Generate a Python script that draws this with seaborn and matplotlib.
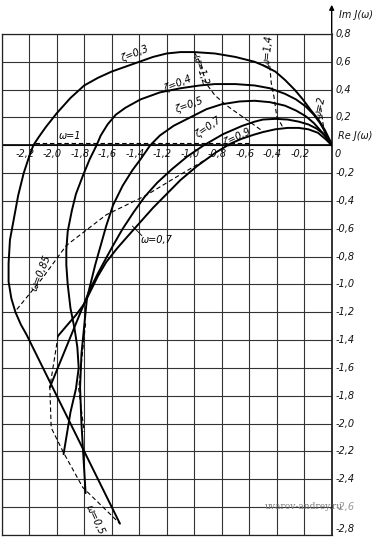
import numpy as np
import pandas as pd
import matplotlib
matplotlib.use("Agg")
import matplotlib.pyplot as plt
import seaborn as sns

# ---------------- data (Re, Im) ----------------
z03_re = [0, -0.01, -0.05, -0.10, -0.15, -0.21, -0.27, -0.34, -0.41, -0.50, -0.56, -0.70, -0.85, -1.0,
          -1.1, -1.2, -1.3, -1.4, -1.5, -1.6, -1.7, -1.8, -1.9, -2.0, -2.08, -2.13, -2.17, -2.20,
          -2.24, -2.28, -2.31, -2.34, -2.35, -2.35, -2.33, -2.30, -2.26, -2.22, -1.54]
z03_im = [0, 0.03, 0.11, 0.19, 0.25, 0.33, 0.40, 0.47, 0.53, 0.575, 0.60, 0.635, 0.66, 0.67,
          0.67, 0.66, 0.635, 0.60, 0.565, 0.53, 0.485, 0.43, 0.34, 0.23, 0.13, 0.06, 0.0, -0.08,
          -0.20, -0.36, -0.52, -0.68, -0.85, -0.98, -1.10, -1.20, -1.29, -1.36, -2.72]

z04_re = [0, -0.025, -0.05, -0.085, -0.13, -0.19, -0.26, -0.34, -0.45, -0.56, -0.70, -0.85, -0.96,
          -1.1, -1.25, -1.39, -1.50, -1.57, -1.63, -1.68, -1.71, -1.76, -1.81, -1.86, -1.89, -1.92,
          -1.93, -1.93, -1.92, -1.90, -1.87, -1.85, -1.84, -1.86, -1.90, -1.95]
z04_im = [0, 0.04, 0.10, 0.16, 0.22, 0.28, 0.33, 0.37, 0.41, 0.43, 0.44, 0.44, 0.43,
          0.41, 0.38, 0.33, 0.27, 0.22, 0.15, 0.07, 0.0, -0.10, -0.22, -0.35, -0.47, -0.62,
          -0.75, -0.86, -1.0, -1.17, -1.32, -1.45, -1.60, -1.75, -1.92, -2.22]

z05_re = [0, -0.02, -0.05, -0.085, -0.13, -0.19, -0.26, -0.34, -0.45, -0.56, -0.67, -0.80, -0.91,
          -1.03, -1.15, -1.25, -1.32, -1.39, -1.45, -1.52, -1.59, -1.64, -1.68, -1.72, -1.75, -1.78,
          -1.80, -1.82, -1.83, -1.82, -1.79]
z05_im = [0, 0.03, 0.07, 0.11, 0.16, 0.21, 0.25, 0.285, 0.31, 0.32, 0.315, 0.295, 0.26,
          0.20, 0.14, 0.07, 0.0, -0.10, -0.18, -0.29, -0.43, -0.58, -0.72, -0.86, -0.98, -1.10,
          -1.30, -1.50, -1.74, -2.00, -2.50]

z07_re = [0, -0.03, -0.07, -0.11, -0.17, -0.24, -0.32, -0.41, -0.50, -0.56, -0.65, -0.72, -0.79,
          -0.86, -0.93, -1.05, -1.16, -1.27, -1.36, -1.44, -1.52, -1.59, -1.64, -1.70, -1.76, -2.05]
z07_im = [0, 0.05, 0.09, 0.12, 0.15, 0.17, 0.185, 0.19, 0.185, 0.17, 0.14, 0.11, 0.08,
          0.04, 0.0, -0.08, -0.17, -0.27, -0.37, -0.48, -0.60, -0.72, -0.81, -0.92, -1.04, -1.74]

z09_re = [0, -0.04, -0.10, -0.17, -0.24, -0.32, -0.41, -0.50, -0.57, -0.66, -0.74, -0.84, -0.98,
          -1.10, -1.20, -1.30, -1.39, -1.48, -1.56, -1.64, -1.70, -1.75, -1.80, -1.86, -1.93, -1.99]
z09_im = [0, 0.04, 0.09, 0.115, 0.125, 0.125, 0.115, 0.095, 0.075, 0.045, 0.01, -0.05, -0.15,
          -0.25, -0.35, -0.45, -0.55, -0.65, -0.74, -0.84, -0.94, -1.04, -1.14, -1.22, -1.30, -1.37]

# iso-omega (dashed) lines
w1_re = [-2.16, -0.6]
w1_im = [0.02, 0.02]
w12_re = [-1.0, -0.96, -0.91, -0.85, -0.77, -0.67, -0.57, -0.5]
w12_im = [0.67, 0.6, 0.44, 0.36, 0.29, 0.22, 0.15, 0.10]
w14_re = [-0.45, -0.44, -0.42, -0.40, -0.35]
w14_im = [0.57, 0.45, 0.35, 0.21, 0.12]
w2_re = [-0.08, -0.05]
w2_im = [0.27, 0.07]
w085_re = [-2.29, -2.1, -1.93, -1.64, -1.35, -1.15, -0.98, -0.93]
w085_im = [-1.18, -0.95, -0.72, -0.5, -0.36, -0.24, -0.14, -0.11]
w05_re = [-1.99, -2.05, -2.04, -1.95, -1.81, -1.54]
w05_im = [-1.37, -1.74, -2.03, -2.21, -2.46, -2.72]
aux_re = [-1.79, -1.84, -1.80]
aux_im = [-1.28, -1.75, -2.06]

x_ticks = [-2.2, -2.0, -1.8, -1.6, -1.4, -1.2, -1.0, -0.8, -0.6, -0.4, -0.2]
x_tick_labels = ["-2,2", "-2,0", "-1,8", "-1,6", "-1,4", "-1,2", "-1,0", "-0,8", "-0,6", "-0,4", "-0,2"]
y_ticks = [0.8, 0.6, 0.4, 0.2, -0.2, -0.4, -0.6, -0.8, -1.0, -1.2, -1.4, -1.6, -1.8, -2.0, -2.2, -2.4, -2.6, -2.8]
y_tick_labels = ["0,8", "0,6", "0,4", "0,2", "-0,2", "-0,4", "-0,6", "-0,8", "-1,0", "-1,2", "-1,4",
                 "-1,6", "-1,8", "-2,0", "-2,2", "-2,4", "-2,6", "-2,8"]

# ---------------- figure ----------------
sns.set_style("white")
plt.rcParams['font.family'] = ['DejaVu Sans']

fig = plt.figure(figsize=(3.72, 5.37), dpi=100)
ax = fig.add_axes([1.7 / 372, 2.2 / 537, 330 / 372, 500.8 / 537])
ax.set_xlim(-2.4, 0.0)
ax.set_ylim(-2.8, 0.8)

# grid
for gx in np.arange(-2.4, 0.001, 0.2):
    ax.axvline(gx, color="#333333", lw=0.8, zorder=1)
for gy in np.arange(-2.8, 0.801, 0.2):
    ax.axhline(gy, color="#333333", lw=0.8, zorder=1)
ax.axhline(0, color="black", lw=1.2, zorder=2)
for s in ax.spines.values():
    s.set_color("#222222")
    s.set_linewidth(0.9)
ax.spines["right"].set_linewidth(1.3)
ax.set_xticks([])
ax.set_yticks([])

solid_kw = dict(color="black", lw=1.4, sort=False, estimator=None, legend=False, ax=ax, zorder=4)
dash_kw = dict(color="black", lw=0.8, sort=False, estimator=None, legend=False, ax=ax, zorder=3)

for xr, yr in [(z03_re, z03_im), (z04_re, z04_im), (z05_re, z05_im), (z07_re, z07_im), (z09_re, z09_im)]:
    sns.lineplot(x=xr, y=yr, **solid_kw)
for ln in ax.lines[-5:]:
    ln.set_solid_joinstyle("round")

for xr, yr in [(w1_re, w1_im), (w12_re, w12_im), (w14_re, w14_im), (w2_re, w2_im),
               (w085_re, w085_im), (w05_re, w05_im), (aux_re, aux_im)]:
    l = sns.lineplot(x=xr, y=yr, **dash_kw)
    l.lines[-1].set_linestyle((0, (4, 2.5)))

# leader for omega=0.7
ax.plot([-1.38, -1.45], [-0.65, -0.58], color="black", lw=0.6, zorder=3)

# y axis arrow
ax.annotate("", xy=(0, 1.03), xytext=(0, 0.79), xycoords="data",
            arrowprops=dict(arrowstyle="-|>", color="black", lw=1.0, mutation_scale=7),
            annotation_clip=False)

tk = dict(fontsize=7, style="italic", color="#111111", clip_on=False)
for v, t in zip(x_ticks, x_tick_labels):
    ax.text(v - 0.03, -0.06, t, ha="center", va="center", **tk)
ax.text(0.02, -0.06, "0", ha="left", va="center", **tk)
for v, t in zip(y_ticks, y_tick_labels):
    c = "#999999" if t == "-2,6" else "#111111"
    yy = -2.755 if t == "-2,8" else v
    ax.text(0.025, yy, t, ha="left", va="center", fontsize=7, style="italic", color=c, clip_on=False)

ax.text(0.055, 0.94, "Im J(ω)", ha="left", va="center", **tk)
ax.text(0.045, 0.065, "Re J(ω)", ha="left", va="center", **tk)

lab = dict(fontsize=7, style="italic", color="black", ha="center", va="center", clip_on=False)
ax.text(-1.43, 0.66, "ζ=0,3", rotation=22, **lab)
ax.text(-1.12, 0.44, "ζ=0,4", rotation=22, **lab)
ax.text(-1.04, 0.29, "ζ=0,5", rotation=20, **lab)
ax.text(-0.90, 0.13, "ζ=0,7", rotation=35, **lab)
ax.text(-0.69, 0.055, "ζ=0,9", rotation=25, **lab)
ax.text(-1.90, 0.065, "ω=1", rotation=0, **lab)
ax.text(-0.95, 0.54, "ω=1,2", rotation=-72, **lab)
ax.text(-0.46, 0.68, "ω=1,4", rotation=85, **lab)
ax.text(-0.08, 0.27, "ω=2", rotation=78, **lab)
ax.text(-2.11, -0.92, "ω=0,85", rotation=68, **lab)
ax.text(-1.27, -0.68, "ω=0,7", rotation=0, **lab)
ax.text(-1.72, -2.69, "ω=0,5", rotation=-65, **lab)

ax.text(-0.20, -2.60, "uvarov-andrey.ru", ha="center", va="center", fontsize=6.5,
        family="DejaVu Serif", color="#777777", clip_on=False, zorder=6)

fig.savefig("out.png", dpi=100)
